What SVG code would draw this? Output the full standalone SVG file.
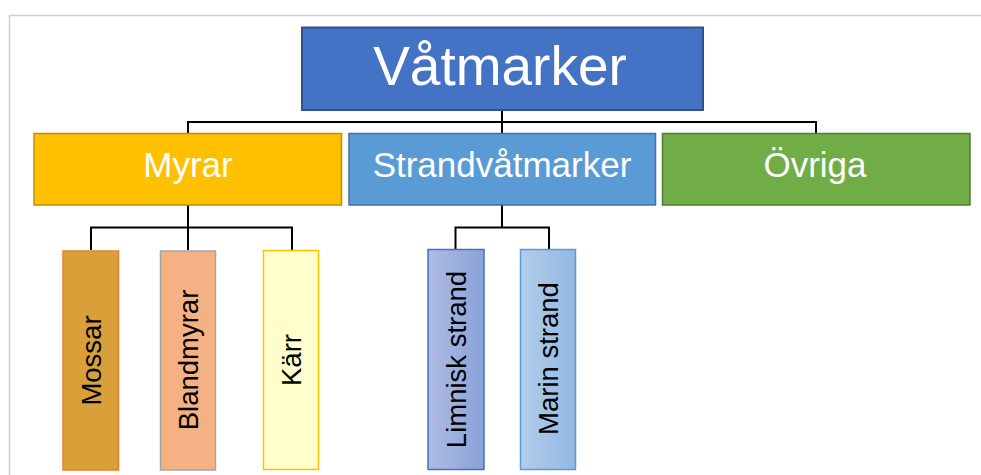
<svg xmlns="http://www.w3.org/2000/svg" width="981" height="475" viewBox="0 0 981 475">
<style>
.lbl{font-family:"Liberation Sans",Arial,sans-serif;fill:#fff;text-anchor:middle}
.vt{font-family:"Liberation Sans",Arial,sans-serif;fill:#000;text-anchor:middle;font-size:27.5px}
.con{fill:none;stroke:#000;stroke-width:2}
</style>
<defs>
<linearGradient id="gLim" x1="0" y1="0" x2="1" y2="0"><stop offset="0" stop-color="#AEBCE3"/><stop offset="1" stop-color="#8AA2D8"/></linearGradient>
<linearGradient id="gMar" x1="0" y1="0" x2="1" y2="0"><stop offset="0" stop-color="#B2CDEB"/><stop offset="1" stop-color="#93B7E2"/></linearGradient>
</defs>
<rect x="0" y="0" width="981" height="475" fill="#fff"/>
<path d="M9.5 475 V15.5 H981" fill="none" stroke="#D0D0D0" stroke-width="1.5"/>
<g id="connectors">
<path class="con" d="M502 110 V122 M188 133 V122 H816 V133 M502 122 V133"/>
<path class="con" d="M188 205 V227.5 M91 250 V227.5 H292 V250 M188 227.5 V250"/>
<path class="con" d="M502 205 V227.5 M455.5 249 V227.5 H549 V249"/>
</g>
<g id="vatmarker">
<rect x="302" y="27.5" width="401" height="82.5" fill="#4472C4" stroke="#2F528F" stroke-width="2"/>
<text class="lbl" x="500" y="85" font-size="55">Våtmarker</text>
</g>
<g id="myrar">
<rect x="34" y="133.5" width="307.5" height="71.5" fill="#FFC000" stroke="#BF9000" stroke-width="1.5"/>
<text class="lbl" x="188" y="177" font-size="35">Myrar</text>
</g>
<g id="strandvatmarker">
<rect x="349" y="133.5" width="306.5" height="71.5" fill="#5B9BD5" stroke="#41719C" stroke-width="1.5"/>
<text class="lbl" x="502" y="177" font-size="35">Strandvåtmarker</text>
</g>
<g id="ovriga">
<rect x="662.5" y="133.5" width="307.5" height="71.5" fill="#70AD47" stroke="#507E32" stroke-width="1.5"/>
<text class="lbl" x="815" y="177" font-size="35">Övriga</text>
</g>
<g id="mossar">
<rect x="63" y="251" width="55.5" height="219" fill="#D9A03A" stroke="#ED7D31" stroke-width="1.5"/>
<text class="vt" transform="translate(100.5 360.5) rotate(-90)">Mossar</text>
</g>
<g id="blandmyrar">
<rect x="160.5" y="251" width="55" height="219" fill="#F4B183" stroke="#A5A5A5" stroke-width="1.5"/>
<text class="vt" transform="translate(198 360) rotate(-90)">Blandmyrar</text>
</g>
<g id="karr">
<rect x="263.5" y="250.5" width="55" height="219" fill="#FFFFCC" stroke="#FFC000" stroke-width="1.5"/>
<text class="vt" transform="translate(301 360) rotate(-90)">Kärr</text>
</g>
<g id="limnisk">
<rect x="428" y="249.5" width="56" height="220" fill="url(#gLim)" stroke="#4472C4" stroke-width="1.5"/>
<text class="vt" transform="translate(466 359.5) rotate(-90)">Limnisk strand</text>
</g>
<g id="marin">
<rect x="520.5" y="249.5" width="55" height="220" fill="url(#gMar)" stroke="#5B9BD5" stroke-width="1.5"/>
<text class="vt" transform="translate(558 358.5) rotate(-90)">Marin strand</text>
</g>
</svg>
